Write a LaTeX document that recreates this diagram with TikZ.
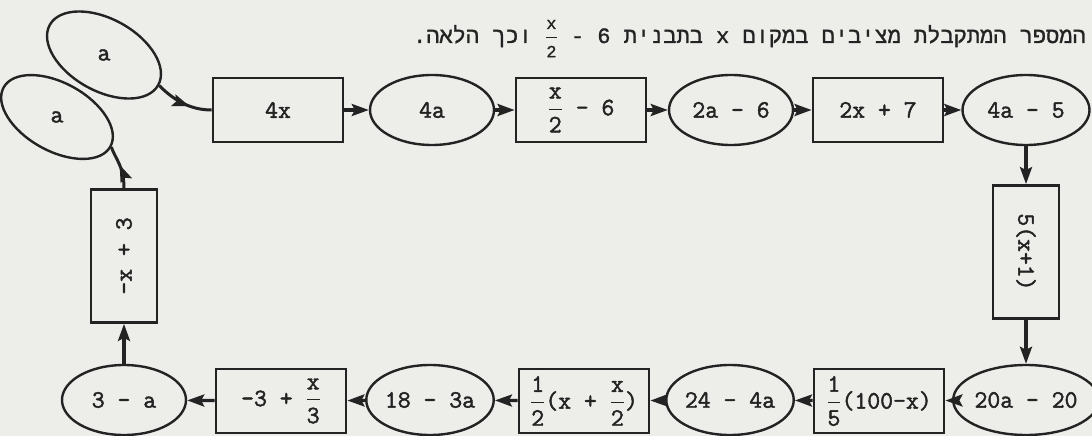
\documentclass[tikz,border=0pt]{standalone}
\usepackage{amsmath}
\usepackage{fontspec}
\newfontfamily\hebfont[Script=Hebrew,FakeBold=1.2]{Liberation Mono}
\newfontfamily\heavytt[FakeBold=1.8]{Latin Modern Mono}
\TeXXeTstate=1
\usetikzlibrary{shapes.geometric,arrows.meta,decorations.markings}
\newcommand{\myfrac}[2]{$\genfrac{}{}{1pt}{0}{\text{#1}}{\text{#2}}$}
\newcommand{\hebfrac}[2]{$\genfrac{}{}{0.9pt}{0}{\text{\fontsize{17}{18}\selectfont#1}}{\text{\fontsize{17}{18}\selectfont#2}}$}
\definecolor{paper}{RGB}{237,237,234}
\definecolor{ink}{RGB}{35,35,35}
\tikzset{
  txt/.style={text=ink, font=\heavytt\fontsize{25}{28}\selectfont},
  box/.style={txt, draw=ink, line width=2.8pt, rectangle, minimum width=130pt, minimum height=64pt, inner sep=0pt},
  vbox/.style={box, minimum width=133pt, minimum height=66pt},
  oval/.style={txt, draw=ink, line width=2.4pt, ellipse, minimum width=124pt, minimum height=70pt, inner sep=0pt},
  conn/.style={draw=ink, line width=3.2pt, -{Stealth[length=17pt,width=12pt,inset=3pt]}},
  midarrow/.style={draw=ink, line width=3pt, postaction={decorate},
    decoration={markings, mark=at position #1 with {\arrow{Stealth[length=17pt,width=12pt,inset=3pt]}}}},
}
\begin{document}
\begin{tikzpicture}[x=1pt,y=-1pt]
\fill[paper] (0,0) rectangle (1092,436);
\useasboundingbox (0,0) rectangle (1092,436);

% heading line
\node[anchor=base east, text=ink, font=\hebfont\fontsize{22}{26}\selectfont, inner sep=0pt] (heb) at (1086,43)
  {\beginR המספר המתקבלת מציבים במקום x בתבנית \beginL\hebfrac{x}{2} - 6\endL{} וכך הלאה.\endR};

% tilted start ellipses
\node[oval, rotate=-29, minimum width=124pt, minimum height=72pt] (A1) at (104,55) {};
\node[txt] (A1t) at (A1.center) {a};
\node[oval, rotate=-29, minimum width=122pt, minimum height=68pt] (A2) at (57,117) {};
\node[txt] (A2t) at (A2.center) {a};

% top row
\node[box] (b4x) at (278,110) {4x};
\node[oval] (e4a) at (432,110) {4a};
\node[box] (bx2) at (581,110) {\myfrac{x}{2} - 6};
\node[oval] (e2a) at (731,110) {2a - 6};
\node[box] (b2x) at (878,110) {2x + 7};
\node[oval, minimum width=127pt] (e4a5) at (1026,110) {4a - 5};

% right column
\node[vbox, rotate=-90] (b5x) at (1026,252) {5(x+1)};

% bottom row
\node[oval, minimum width=127pt] (e20) at (1026,400) {20a - 20};
\node[box] (b15) at (879,401) {\myfrac{1}{5}(100-x)};
\node[oval] (e24) at (730,400) {24 - 4a};
\node[box] (b12) at (584,401) {\myfrac{1}{2}(x + \myfrac{x}{2})};
\node[oval] (e18) at (430,400) {18 - 3a};
\node[box] (b3) at (281,401) {-3 + \myfrac{x}{3}};
\node[oval] (e3a) at (124,400) {3 - a};

% left column
\node[vbox, rotate=90] (bmx) at (124,256) {-x + 3};

% connectors
\draw[midarrow=0.62] (A1.0) .. controls +(14,14) and +(-22,0) .. (b4x.west);
\draw[conn] (b4x) -- (e4a);
\draw[conn] (e4a) -- (bx2);
\draw[conn] (bx2) -- (e2a);
\draw[conn] (e2a) -- (b2x);
\draw[conn] (b2x) -- (e4a5);
\draw[conn] (e4a5.south) -- (b5x.west);
\draw[conn] (b5x.east) -- (e20.north);
\draw[conn] (e20) -- (b15);
\draw[conn] (b15) -- (e24);
\draw[conn] (e24) -- (b12);
\draw[conn] (b12) -- (e18);
\draw[conn] (e18) -- (b3);
\draw[conn] (b3) -- (e3a);
\draw[conn] (e3a.north) -- (bmx.west);
\draw[midarrow=0.55] (bmx.east) .. controls +(0,-22) and +(4,12) .. (A2.0);
\end{tikzpicture}
\end{document}
